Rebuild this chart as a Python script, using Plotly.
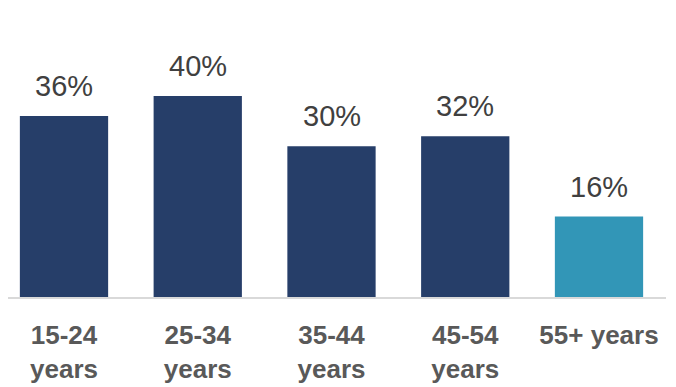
import plotly.graph_objects as go

categories = ["15-24<br>years", "25-34<br>years", "35-44<br>years", "45-54<br>years", "55+ years"]
values = [36, 40, 30, 32, 16]
colors = ["#263E69", "#263E69", "#263E69", "#263E69", "#3296B7"]

fig = go.Figure()
fig.add_trace(go.Bar(
    x=list(range(len(categories))), y=values,
    marker=dict(color=colors, line=dict(width=0)),
    width=0.66, hoverinfo="skip",
))

for i, v in enumerate(values):
    fig.add_annotation(
        x=i, y=v, text=f"{v}%", showarrow=False, yanchor="bottom", yshift=12,
        font=dict(family="Liberation Sans", size=29, color="#404040"),
    )

fig.update_layout(
    width=676, height=387,
    margin=dict(l=0, r=18, t=0, b=98),
    paper_bgcolor="white", plot_bgcolor="white",
    showlegend=False,
)
fig.update_xaxes(
    range=[-0.4187, 4.501], automargin=False,
    tickmode="array", tickvals=list(range(len(categories))), ticktext=categories,
    showline=True, linecolor="#D9D9D9", linewidth=2,
    showgrid=False, zeroline=False, ticks="", ticklabelstandoff=14,
    tickfont=dict(family="Liberation Sans", size=26, color="#595959", weight="bold"),
)
fig.update_yaxes(range=[0, 57.51], visible=False, showgrid=False, automargin=False)

fig.write_html("out.html")
